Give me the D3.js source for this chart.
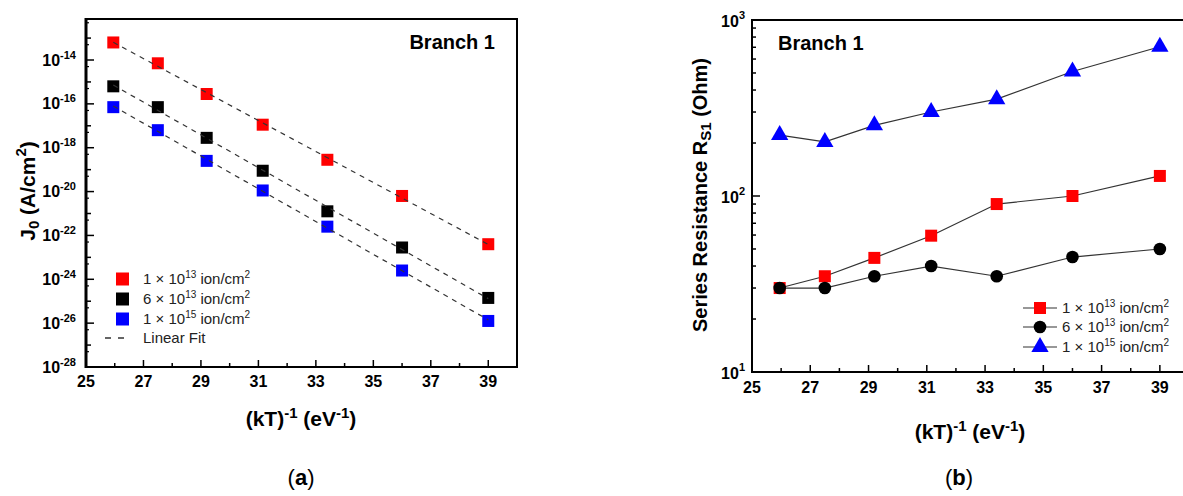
<!DOCTYPE html>
<html><head><meta charset="utf-8">
<script src="https://cdn.jsdelivr.net/npm/d3@7"></script>
<style>body{margin:0;background:#fff}svg{display:block}text{font-family:"Liberation Sans",Arial,sans-serif}</style>
</head><body>
<svg id="c" width="1183" height="496"></svg>
<script>
// ---- DATA ----
const xVals = [25.95, 27.5, 29.2, 31.15, 33.4, 36.0, 39.0];
// panel (a): log10 of J0 (A/cm^2)
const seriesNames = ["1 × 10|13| ion/cm|2", "6 × 10|13| ion/cm|2", "1 × 10|15| ion/cm|2"];
const j0Red   = [-13.2, -14.15, -15.55, -16.95, -18.55, -20.2, -22.4];
const j0Black = [-15.2, -16.15, -17.55, -19.05, -20.9, -22.55, -24.85];
const j0Blue  = [-16.15, -17.2, -18.6, -19.95, -21.6, -23.6, -25.9];
// panel (b): series resistance (Ohm)
const rsRed   = [30, 35, 44.5, 59.5, 90, 100, 130];
const rsBlack = [30, 30, 35, 40, 35, 45, 50];
const rsBlue  = [222, 203, 252, 300, 355, 510, 705];
const xTicks = [25, 27, 29, 31, 33, 35, 37, 39];
const yTicksA = [-28, -26, -24, -22, -20, -18, -16, -14];
const yTicksB = [1, 2, 3];

const colors = ["#ff0000", "#000000", "#0000ff"];
const svg = d3.select("#c");
const bold = "bold";

// ===================== PANEL (a) =====================
const xA = d3.scaleLinear().domain([25, 40]).range([86, 517]);
const yA = d3.scaleLinear().domain([-28, -12.13]).range([367, 19]);
const gA = svg.append("g");

const minorX = d3.range(25, 40.01, 1);
gA.selectAll(".xt").data(minorX).join("line")
  .attr("x1", d => xA(d)).attr("x2", d => xA(d))
  .attr("y1", 367).attr("y2", d => xTicks.includes(d) ? 360 : 363)
  .attr("stroke", "#000").attr("stroke-width", 1.5);
const decA = d3.range(-28, -12, 1);
gA.selectAll(".yt").data(decA).join("line")
  .attr("x1", 86).attr("x2", d => yTicksA.includes(d) ? 94 : 91)
  .attr("y1", d => yA(d)).attr("y2", d => yA(d))
  .attr("stroke", "#000").attr("stroke-width", 1.5);
const minA = [];
decA.forEach(d => [2,3,4,5,6,7,8,9].forEach(m => { const v = d + Math.log10(m); if (v < -12.13) minA.push(v); }));
gA.selectAll(".ym").data(minA.filter((v,i)=> i%8===3)).join("line")
  .attr("x1", 86).attr("x2", 89)
  .attr("y1", d => yA(d)).attr("y2", d => yA(d))
  .attr("stroke", "#000").attr("stroke-width", 1.2);

gA.append("rect").attr("x", 86).attr("y", 19).attr("width", 431).attr("height", 348)
  .attr("fill", "none").attr("stroke", "#000").attr("stroke-width", 2);
gA.append("line").attr("x1", 86).attr("x2", 86).attr("y1", 18).attr("y2", 368)
  .attr("stroke", "#000").attr("stroke-width", 3);

gA.selectAll(".xl").data(xTicks).join("text")
  .attr("x", d => xA(d)).attr("y", 387).attr("text-anchor", "middle")
  .attr("font-size", 16).attr("font-weight", bold).text(d => d);
yTicksA.forEach(d => {
  const t = gA.append("text").attr("x", 76).attr("y", yA(d) + 5.5).attr("text-anchor", "end")
    .attr("font-size", 16).attr("font-weight", bold);
  t.append("tspan").text("10");
  t.append("tspan").attr("font-size", 11).attr("dy", -7).text("-" + Math.abs(d));
});

const dataA = [j0Red, j0Black, j0Blue];
dataA.forEach((ys, si) => {
  gA.selectAll(".m" + si).data(ys).join("rect")
    .attr("x", (d, i) => xA(xVals[i]) - 6).attr("y", d => yA(d) - 6)
    .attr("width", 12).attr("height", 12).attr("fill", colors[si]);
});
dataA.forEach(ys => {
  const n = xVals.length;
  const mx = d3.mean(xVals), my = d3.mean(ys);
  const s = d3.sum(xVals.map((x, i) => (x - mx) * (ys[i] - my))) / d3.sum(xVals.map(x => (x - mx) ** 2));
  const b = my - s * mx;
  const x0 = xVals[0], x1 = xVals[n - 1];
  gA.append("line").attr("x1", xA(x0)).attr("y1", yA(s * x0 + b))
    .attr("x2", xA(x1)).attr("y2", yA(s * x1 + b))
    .attr("stroke", "#333").attr("stroke-width", 1.2).attr("stroke-dasharray", "5,5");
});

const legYA = [279, 299, 319];
function legText(g, x, y, nm) {
  const t = g.append("text").attr("x", x).attr("y", y + 5).attr("font-size", 15).attr("fill", "#222");
  const p = nm.split("|");
  t.append("tspan").text(p[0]);
  t.append("tspan").attr("font-size", 10).attr("dy", -6).text(p[1]);
  t.append("tspan").attr("dy", 6).text(p[2]);
  t.append("tspan").attr("font-size", 10).attr("dy", -6).text(p[3]);
}
seriesNames.forEach((nm, i) => {
  gA.append("rect").attr("x", 116).attr("y", legYA[i] - 6.5).attr("width", 13).attr("height", 13)
    .attr("fill", colors[i]);
  legText(gA, 143, legYA[i], nm);
});
gA.append("line").attr("x1", 105).attr("x2", 130).attr("y1", 338).attr("y2", 338)
  .attr("stroke", "#333").attr("stroke-width", 1.3).attr("stroke-dasharray", "6,7");
gA.append("text").attr("x", 143).attr("y", 343).attr("font-size", 15).attr("fill", "#222").text("Linear Fit");

gA.append("text").attr("x", 495).attr("y", 49).attr("text-anchor", "end")
  .attr("font-size", 20).attr("font-weight", bold).text("Branch 1");

function xTitle(g, cx, y) {
  const t = g.append("text").attr("x", cx).attr("y", y).attr("text-anchor", "middle")
    .attr("font-size", 21).attr("font-weight", bold);
  t.append("tspan").text("(kT)");
  t.append("tspan").attr("font-size", 15).attr("dy", -8).text("-1");
  t.append("tspan").attr("dy", 8).text(" (eV");
  t.append("tspan").attr("font-size", 15).attr("dy", -8).text("-1");
  t.append("tspan").attr("dy", 8).text(")");
}
xTitle(gA, 301, 426);
{
  const t = gA.append("text").attr("transform", "translate(35,191) rotate(-90)")
    .attr("text-anchor", "middle").attr("font-size", 21).attr("font-weight", bold);
  t.append("tspan").text("J");
  t.append("tspan").attr("font-size", 15).attr("dy", 4).text("0");
  t.append("tspan").attr("dy", -4).text(" (A/cm");
  t.append("tspan").attr("font-size", 15).attr("dy", -9).text("2");
  t.append("tspan").attr("dy", 9).text(")");
}

// ===================== PANEL (b) =====================
const xB = d3.scaleLinear().domain([25, 40]).range([752, 1189]);
const yB = d3.scaleLog().domain([10, 1000]).range([372, 20]);
const gB = svg.append("g");

gB.selectAll(".xt").data(minorX).join("line")
  .attr("x1", d => xB(d)).attr("x2", d => xB(d))
  .attr("y1", 372).attr("y2", d => xTicks.includes(d) ? 365 : 368)
  .attr("stroke", "#000").attr("stroke-width", 1.5);
const ticksB = [];
[10, 100].forEach(b => [1,2,3,4,5,6,7,8,9].forEach(m => ticksB.push(b * m)));
ticksB.push(1000);
gB.selectAll(".yt").data(ticksB).join("line")
  .attr("x1", 752).attr("x2", d => [10,100,1000].includes(d) ? 760 : 756)
  .attr("y1", d => yB(d)).attr("y2", d => yB(d))
  .attr("stroke", "#000").attr("stroke-width", 1.5);

gB.append("rect").attr("x", 752).attr("y", 20).attr("width", 437).attr("height", 352)
  .attr("fill", "none").attr("stroke", "#000").attr("stroke-width", 2);

gB.selectAll(".xl").data(xTicks).join("text")
  .attr("x", d => xB(d)).attr("y", 393).attr("text-anchor", "middle")
  .attr("font-size", 16).attr("font-weight", bold).text(d => d);
yTicksB.forEach(e => {
  const t = gB.append("text").attr("x", 745).attr("y", yB(10 ** e) + 7).attr("text-anchor", "end")
    .attr("font-size", 16).attr("font-weight", bold);
  t.append("tspan").text("10");
  t.append("tspan").attr("font-size", 11).attr("dy", -8).text(e);
});

const dataB = [rsRed, rsBlack, rsBlue];
const line = d3.line().x((d, i) => xB(xVals[i])).y(d => yB(d));
const tri = d3.symbol().type(d3.symbolTriangle).size(130);
function marker(g, si, x, y) {
  if (si === 0) g.append("rect").attr("x", x - 6).attr("y", y - 6).attr("width", 12).attr("height", 12).attr("fill", colors[0]);
  else if (si === 1) g.append("circle").attr("cx", x).attr("cy", y).attr("r", 6.3).attr("fill", colors[1]);
  else g.append("path").attr("d", tri()).attr("transform", `translate(${x},${y})`).attr("fill", colors[2]);
}
dataB.forEach(ys => {
  gB.append("path").attr("d", line(ys)).attr("fill", "none").attr("stroke", "#333").attr("stroke-width", 1.2);
});
dataB.forEach((ys, si) => {
  ys.forEach((d, i) => marker(gB, si, xB(xVals[i]), yB(d)));
});

const legYB = [308, 327, 347];
seriesNames.forEach((nm, i) => {
  gB.append("line").attr("x1", 1023).attr("x2", 1057).attr("y1", legYB[i]).attr("y2", legYB[i])
    .attr("stroke", "#333").attr("stroke-width", 1.2);
  marker(gB, i, 1040, legYB[i]);
  legText(gB, 1062, legYB[i], nm);
});

gB.append("text").attr("x", 778).attr("y", 50)
  .attr("font-size", 20).attr("font-weight", bold).text("Branch 1");

xTitle(gB, 970, 439);
{
  const t = gB.append("text").attr("transform", "translate(707,195) rotate(-90)")
    .attr("text-anchor", "middle").attr("font-size", 20).attr("font-weight", bold);
  t.append("tspan").text("Series Resistance R");
  t.append("tspan").attr("font-size", 15).attr("dy", 4).text("S1");
  t.append("tspan").attr("dy", -4).text(" (Ohm)");
}

[["a", 301], ["b", 959]].forEach(([l, x]) => {
  const t = svg.append("text").attr("x", x).attr("y", 485).attr("text-anchor", "middle")
    .attr("font-family", "'Liberation Serif','DejaVu Serif',serif").attr("font-size", 22);
  t.append("tspan").text("(");
  t.append("tspan").attr("font-weight", "bold").text(l);
  t.append("tspan").text(")");
});
</script>
</body></html>
